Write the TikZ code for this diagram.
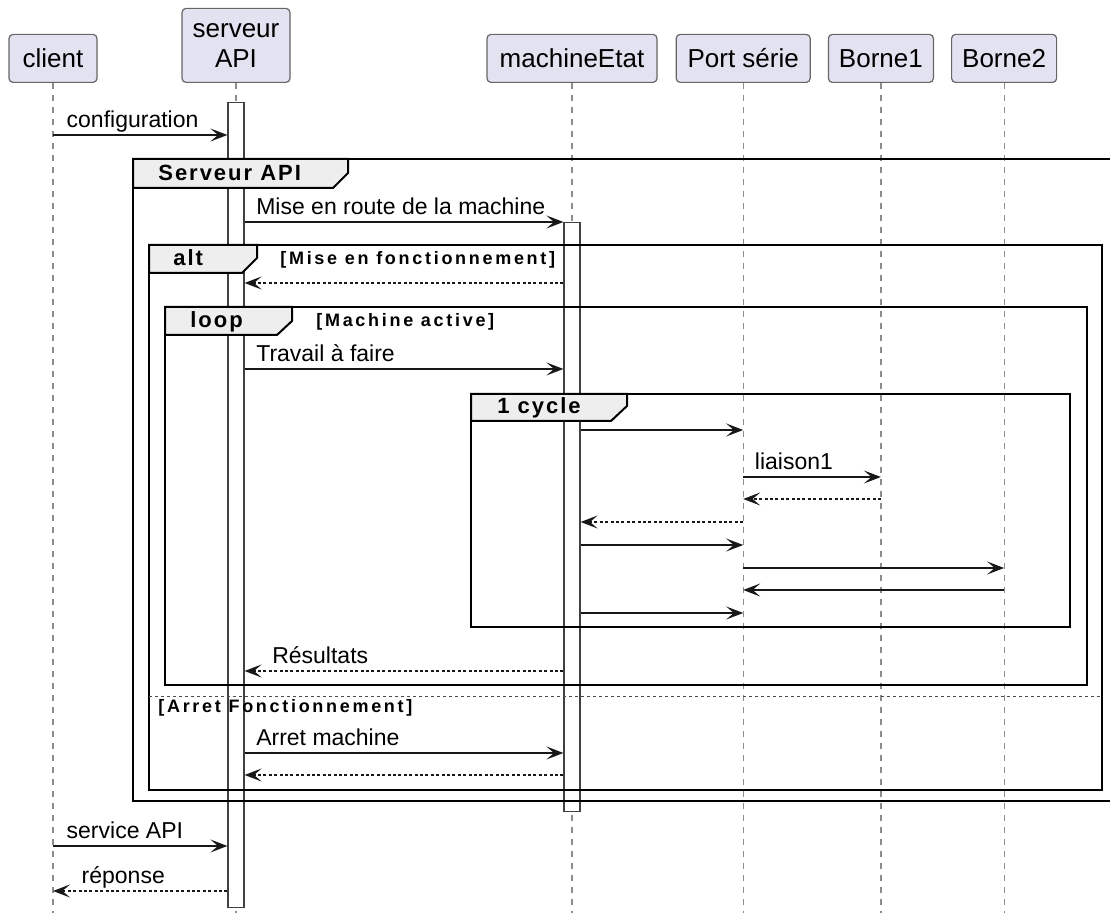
\documentclass[tikz,border=0pt]{standalone}
\usepackage{fontspec}
\setmainfont{Liberation Sans}
\newfontfamily\grpfont[LetterSpace=9]{Liberation Sans}
\newfontfamily\condfont[LetterSpace=15]{Liberation Sans}
\usepackage{tikz}
\usetikzlibrary{arrows.meta, positioning}
\definecolor{partfill}{HTML}{E2E2F0}
\definecolor{tabfill}{HTML}{EEEEEE}
\definecolor{linecol}{HTML}{181818}
\tikzstyle{part} = [rectangle, rounded corners=2pt, minimum height=24pt, text centered, draw=black!60, fill=partfill, line width=0.6pt, font=\fontsize{13}{15}\selectfont]
\tikzstyle{lifeline} = [draw=black!45, line width=0.6pt, dash pattern=on 3pt off 3pt]
\tikzstyle{actbar} = [rectangle, draw=black!75, fill=white, minimum width=8pt, line width=0.6pt, inner sep=0pt]
\tikzstyle{msg} = [draw=linecol, line width=0.7pt, -{Stealth[length=8.5pt,width=6.5pt,inset=3.8pt]}]
\tikzstyle{ret} = [msg, dash pattern=on 1.5pt off 1.2pt]
\tikzstyle{lbl} = [anchor=base west, inner sep=0pt, yshift=3.5pt, font=\fontsize{11.5}{13}\selectfont]
\tikzstyle{frame} = [draw=black, line width=1pt]
\tikzstyle{tab} = [frame, fill=tabfill]
\tikzstyle{grp} = [anchor=base west, inner sep=0pt, font=\grpfont\bfseries\fontsize{11}{13}\selectfont]
\tikzstyle{cond} = [anchor=base west, inner sep=0pt, font=\condfont\bfseries\fontsize{9}{11}\selectfont]
\tikzstyle{sep} = [draw=black!70, line width=0.5pt, dash pattern=on 1.5pt off 1.5pt]

\begin{document}
\begin{tikzpicture}[x=0.5pt, y=-0.5pt]
\useasboundingbox (0,0) rectangle (1110,913);

\node (client) [part, anchor=south, minimum width=44pt] at (53,83) {client};
\node (srv) [part, anchor=south, minimum width=54pt, minimum height=37pt, align=center] at (236,83) {serveur\\API};
\node (mach) [part, anchor=south, minimum width=85pt] at (572,83) {machineEtat};
\node (port) [part, right=9pt of mach, minimum width=67pt] {Port série};
\node (b1) [part, right=8.5pt of port, minimum width=52.5pt] {Borne1};
\node (b2) [part, right=8.5pt of b1, minimum width=52.5pt] {Borne2};

\foreach \p in {client,srv,mach,port,b1,b2}
  \draw [lifeline] (\p.south) -- (\p.south |- 0,913);

\node (actS) [actbar, anchor=north, minimum height=402.5pt] at (srv |- 0,102) {};
\node (actM) [actbar, anchor=north, minimum height=294.5pt] at (mach |- 0,222) {};

% groupes
\draw [frame] (133,159) rectangle (1112,801);
\draw [tab] (133,159) -- (348,159) -- (348,173) -- (333,188) -- (133,188) -- cycle;
\node (gServ) [grp] at (158,181) {Serveur API};

\draw [frame] (149,245) rectangle (1102,790);
\draw [tab] (149,245) -- (257,245) -- (257,258) -- (242,273) -- (149,273) -- cycle;
\node (gAlt) [grp] at (173,266) {alt};
\node (cAlt) [cond] at (280,265) {[Mise en fonctionnement]};
\draw [sep] (149,697) -- (1102,697);
\node (cArret) [cond] at (158,713) {[Arret Fonctionnement]};

\draw [frame] (165,307) rectangle (1087,685);
\draw [tab] (165,307) -- (292,307) -- (292,321) -- (277,335) -- (165,335) -- cycle;
\node (gLoop) [grp] at (190,328) {loop};
\node (cLoop) [cond] at (316,327) {[Machine active]};

\draw [frame] (471,394) rectangle (1070,627);
\draw [tab] (471,394) -- (627,394) -- (627,406) -- (611,421) -- (471,421) -- cycle;
\node (gCyc) [grp] at (497,414) {1 cycle};

% messages
\draw [msg] (client |- 0,135) -- (actS.west |- 0,135) node[lbl, pos=0, xshift=6.5pt] (mConf) {configuration};
\draw [msg] (actS.east |- 0,222) -- (actM.west |- 0,222) node[lbl, pos=0, xshift=5.5pt] (mRoute) {Mise en route de la machine};
\draw [ret] (actM.west |- 0,283) -- (actS.east |- 0,283);
\draw [msg] (actS.east |- 0,369) -- (actM.west |- 0,369) node[lbl, pos=0, xshift=5.5pt] (mTrav) {Travail à faire};

\draw [msg] (actM.east |- 0,430) -- (port |- 0,430);
\draw [msg] (port |- 0,477) -- (b1 |- 0,477) node[lbl, pos=0, xshift=5.5pt] (mLiai) {liaison1};
\draw [ret] (b1 |- 0,499) -- (port |- 0,499);
\draw [ret] (port |- 0,522) -- (actM.east |- 0,522);
\draw [msg] (actM.east |- 0,545) -- (port |- 0,545);
\draw [msg] (port |- 0,568) -- (b2 |- 0,568);
\draw [msg] (b2 |- 0,590) -- (port |- 0,590);
\draw [msg] (actM.east |- 0,613) -- (port |- 0,613);

\draw [ret] (actM.west |- 0,671) -- (actS.east |- 0,671) node[lbl, pos=1, xshift=13.5pt] (mRes) {Résultats};
\draw [msg] (actS.east |- 0,753) -- (actM.west |- 0,753) node[lbl, pos=0, xshift=5.5pt] (mArret) {Arret machine};
\draw [ret] (actM.west |- 0,775) -- (actS.east |- 0,775);

\draw [msg] (client |- 0,846) -- (actS.west |- 0,846) node[lbl, pos=0, xshift=6.5pt] (mServ) {service API};
\draw [ret] (actS.west |- 0,891) -- (client |- 0,891) node[lbl, pos=1, xshift=14pt] (mRep) {réponse};

\end{tikzpicture}
\end{document}
